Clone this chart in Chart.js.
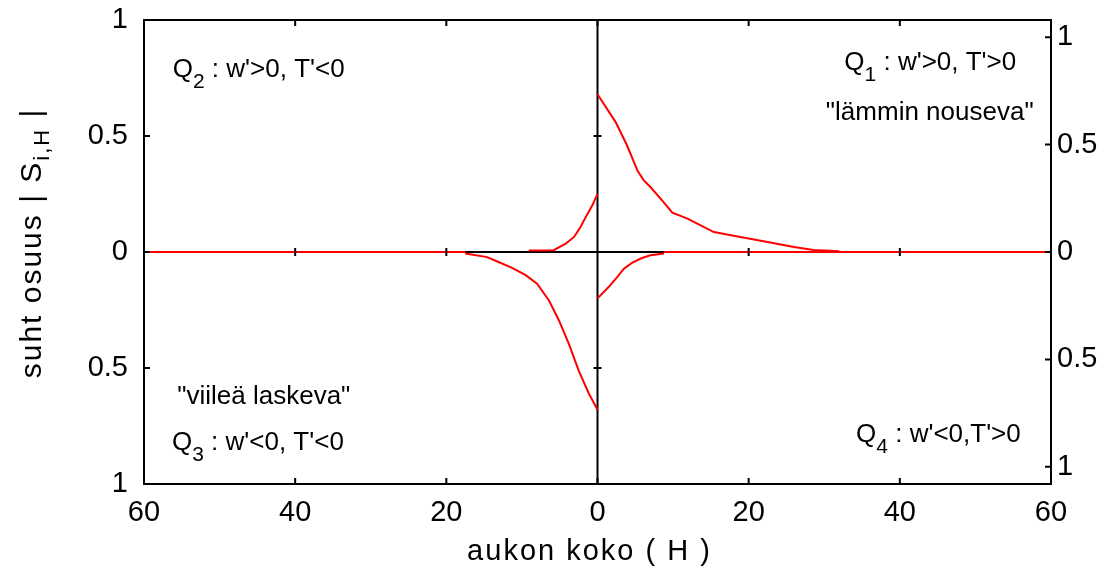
<!DOCTYPE html>
<html>
<head>
<meta charset="utf-8">
<script src="https://cdn.jsdelivr.net/npm/chart.js@4.4.0/dist/chart.umd.min.js"></script>
<style>
  html, body { margin: 0; padding: 0; background: #fff; }
</style>
</head>
<body>
<canvas id="myCanvas" width="1105" height="577"></canvas>
<script>
// tick values (labels are shown as absolute values)
const xTickVals = [-60, -40, -20, 0, 20, 40, 60];
const leftTickVals = [-1, -0.5, 0, 0.5, 1];
const rightTickVals = [-1, -0.5, 0, 0.5, 1];

// Q1: w'>0, T'>0 (lämmin nouseva)
const q1X = [0, 2.4, 3.9, 5.3, 6.1, 7.0, 8.6, 9.9, 11.9, 15.4, 18.9, 22.5, 26, 28.6, 32];
const q1Y = [0.68, 0.56, 0.46, 0.35, 0.31, 0.28, 0.22, 0.17, 0.144, 0.086, 0.065, 0.043, 0.022, 0.009, 0.003];
// Q2: w'>0, T'<0
const q2X = [0, -0.7, -1.4, -2.25, -3.1, -4.2, -5.3, -5.8, -9.1];
const q2Y = [0.25, 0.2, 0.16, 0.108, 0.065, 0.036, 0.017, 0.008, 0.006];
// Q3: w'<0, T'<0 (viileä laskeva)
const q3X = [0, -1.15, -2.5, -3.8, -5.1, -6.4, -8.0, -9.5, -11.3, -13.1, -14.6, -17.5];
const q3Y = [-0.68, -0.61, -0.51, -0.395, -0.295, -0.21, -0.137, -0.1, -0.068, -0.043, -0.022, -0.006];
// Q4: w'<0, T'>0
const q4X = [0, 1.5, 2.6, 3.5, 4.6, 5.9, 7.0, 8.8];
const q4Y = [-0.2, -0.15, -0.108, -0.072, -0.046, -0.026, -0.014, -0.006];

// zero line and the short black segment / vertical axis line
const zeroLineX = [-60, 60];
const blackSegX = [-17.5, 8.8];
const centerLineY = [-1, 1];

// quadrant texts, anchored in data coordinates
const labels = [
  { main: "Q", sub: "2", rest: " : w'>0, T'<0", x: -56.2, y: 0.754, align: "left" },
  { main: "Q", sub: "1", rest: " : w'>0, T'>0", x: 55.4, y: 0.784, align: "right" },
  { main: "\"lämmin nouseva\"", sub: "", rest: "", x: 57.7, y: 0.569, align: "right" },
  { main: "\"viileä laskeva\"", sub: "", rest: "", x: -55.6, y: -0.655, align: "left" },
  { main: "Q", sub: "3", rest: " : w'<0, T'<0", x: -56.3, y: -0.853, align: "left" },
  { main: "Q", sub: "4", rest: " : w'<0,T'>0", x: 56.0, y: -0.819, align: "right" }
];

const FONT = "'Liberation Sans', Arial, sans-serif";

function pts(xs, ys) {
  return xs.map((x, i) => ({ x: x, y: ys[i] }));
}

function line(data, color, order) {
  return {
    data: data,
    borderColor: color,
    borderWidth: 2,
    pointRadius: 0,
    tension: 0,
    fill: false,
    order: order
  };
}

function drawSub(ctx, lab, px, py, mainSize, subSize, subDrop) {
  ctx.font = mainSize + "px " + FONT;
  const w1 = ctx.measureText(lab.main).width;
  const w3 = ctx.measureText(lab.rest).width;
  ctx.font = subSize + "px " + FONT;
  const w2 = lab.sub ? ctx.measureText(lab.sub).width : 0;
  let sx = lab.align === "right" ? px - (w1 + w2 + w3) : px;
  ctx.textAlign = "left";
  ctx.textBaseline = "alphabetic";
  ctx.font = mainSize + "px " + FONT;
  ctx.fillText(lab.main, sx, py);
  if (lab.sub) {
    ctx.font = subSize + "px " + FONT;
    ctx.fillText(lab.sub, sx + w1, py + subDrop);
  }
  ctx.font = mainSize + "px " + FONT;
  ctx.fillText(lab.rest, sx + w1 + w2, py);
}

const overlay = {
  id: "overlay",
  afterDatasetsDraw(chart) {
    const { ctx, chartArea: a, scales } = chart;
    const xs = scales.x, ys = scales.y, ys2 = scales.y2;
    ctx.save();
    ctx.strokeStyle = "#000";
    ctx.lineWidth = 2;
    ctx.strokeRect(a.left, a.top, a.right - a.left, a.bottom - a.top);

    // inward tick marks on the frame and small marks on the centre cross
    const x0 = xs.getPixelForValue(0), y0 = ys.getPixelForValue(0);
    ctx.beginPath();
    xTickVals.forEach(v => {
      const px = xs.getPixelForValue(v);
      ctx.moveTo(px, a.top); ctx.lineTo(px, a.top + 6);
      ctx.moveTo(px, a.bottom); ctx.lineTo(px, a.bottom - 6);
      if (v !== 0 && Math.abs(v) < 60) {
        ctx.moveTo(px, y0 - 4); ctx.lineTo(px, y0 + 4);
      }
    });
    leftTickVals.forEach(v => {
      const py = ys.getPixelForValue(v);
      ctx.moveTo(a.left, py); ctx.lineTo(a.left + 6, py);
      if (v !== 0 && Math.abs(v) < 1) {
        ctx.moveTo(x0 - 4, py); ctx.lineTo(x0 + 4, py);
      }
    });
    rightTickVals.forEach(v => {
      const py = ys2.getPixelForValue(v);
      ctx.moveTo(a.right, py); ctx.lineTo(a.right - 6, py);
    });
    ctx.stroke();

    // quadrant texts
    ctx.fillStyle = "#000";
    labels.forEach(lab => {
      drawSub(ctx, lab, xs.getPixelForValue(lab.x), ys.getPixelForValue(lab.y), 26, 21, 11);
    });

    // x title
    ctx.font = "29px " + FONT;
    ctx.letterSpacing = "2px";
    ctx.textAlign = "center";
    ctx.textBaseline = "middle";
    ctx.fillText("aukon koko ( H )", (a.left + a.right) / 2 - 8, a.bottom + 68);

    // y title with subscript, rotated
    const cx = a.left - 111, cy = (a.top + a.bottom) / 2 - 9;
    ctx.translate(cx, cy);
    ctx.rotate(-Math.PI / 2);
    ctx.textAlign = "left";
    ctx.textBaseline = "middle";
    ctx.font = "30px " + FONT;
    const p1 = "suht osuus | S", p3 = " |";
    const w1 = ctx.measureText(p1).width, w3 = ctx.measureText(p3).width;
    ctx.font = "22px " + FONT;
    const w2 = ctx.measureText("i,H").width;
    let sx = -(w1 + w2 + w3) / 2;
    ctx.font = "30px " + FONT;
    ctx.fillText(p1, sx, 0);
    ctx.font = "22px " + FONT;
    ctx.fillText("i,H", sx + w1, 10);
    ctx.font = "30px " + FONT;
    ctx.fillText(p3, sx + w1 + w2, 0);
    ctx.restore();
  }
};

const tickFont = { family: FONT, size: 29 };

// fixed axis box sizes so the plot frame lands where the original has it
function fitY(width) {
  return s => {
    s.width = width;
    s.paddingTop = 0;
    s.paddingBottom = 0;
  };
}

new Chart(document.getElementById("myCanvas").getContext("2d"), {
  type: "line",
  data: {
    datasets: [
      line(pts(q1X, q1Y), "#ff0000", 1),
      line(pts(q2X, q2Y), "#ff0000", 1),
      line(pts(q3X, q3Y), "#ff0000", 1),
      line(pts(q4X, q4Y), "#ff0000", 1),
      line(pts([0, 0], centerLineY), "#000000", 2),
      line(pts(blackSegX, [0, 0]), "#000000", 3),
      line(pts(zeroLineX, [0, 0]), "#ff0000", 4)
    ]
  },
  options: {
    responsive: false,
    animation: false,
    devicePixelRatio: 1,
    layout: { padding: { top: 20, left: 0, right: 0, bottom: 0 } },
    plugins: { legend: { display: false }, tooltip: { enabled: false } },
    scales: {
      x: {
        type: "linear",
        position: "bottom",
        min: -60,
        max: 60,
        afterBuildTicks: s => { s.ticks = xTickVals.map(v => ({ value: v })); },
        afterFit: s => { s.height = 93; s.paddingLeft = 0; s.paddingRight = 0; },
        grid: { display: false, drawTicks: false },
        border: { display: false },
        ticks: { color: "#000", font: tickFont, padding: 12, maxRotation: 0,
                 callback: v => String(Math.abs(v)) }
      },
      y: {
        type: "linear",
        position: "left",
        min: -1,
        max: 1,
        afterBuildTicks: s => { s.ticks = leftTickVals.map(v => ({ value: v })); },
        afterFit: fitY(144),
        grid: { display: false, drawTicks: false },
        border: { display: false },
        ticks: { color: "#000", font: tickFont, padding: 16,
                 callback: v => String(Math.abs(v)) }
      },
      y2: {
        type: "linear",
        position: "right",
        min: -1.08,
        max: 1.08,
        afterBuildTicks: s => { s.ticks = rightTickVals.map(v => ({ value: v })); },
        afterFit: fitY(54),
        grid: { display: false, drawTicks: false },
        border: { display: false },
        ticks: { color: "#000", font: tickFont, padding: 6,
                 callback: v => String(Math.abs(v)) }
      }
    }
  },
  plugins: [overlay]
});
</script>
</body>
</html>
